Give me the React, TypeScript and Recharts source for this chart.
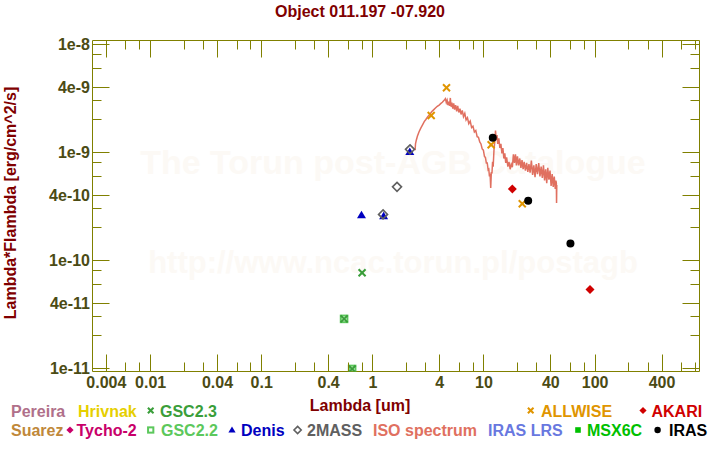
import React from 'react';
import { ComposedChart, Scatter, XAxis, YAxis } from 'recharts';

// ---------- text ----------
const title = 'Object 011.197 -07.920';
const xTitle = 'Lambda [um]';
const yTitle = 'Lambda*Flambda [erg/cm^2/s]';
const watermark1 = 'The Torun post-AGB Catalogue';
const watermark2 = 'http://www.ncac.torun.pl/postagb';

// ---------- axes ----------
const xDomain = [0.003, 870];
const yDomain = [9.38e-12, 1.089e-8];
const xMajor = [0.004, 0.01, 0.04, 0.1, 0.4, 1, 4, 10, 40, 100, 400];
const xMajorLabels = ['0.004', '0.01', '0.04', '0.1', '0.4', '1', '4', '10', '40', '100', '400'];
const xMinor = [0.006, 0.008, 0.02, 0.03, 0.06, 0.08, 0.2, 0.3, 0.6, 0.8, 2, 3, 6, 8, 20, 30, 60, 80, 200, 300, 600, 800];
const yMajor = [1e-8, 4e-9, 1e-9, 4e-10, 1e-10, 4e-11, 1e-11];
const yMajorLabels = ['1e-8', '4e-9', '1e-9', '4e-10', '1e-10', '4e-11', '1e-11'];
const yMinor = [8e-9, 6e-9, 3e-9, 2e-9, 8e-10, 6e-10, 3e-10, 2e-10, 8e-11, 6e-11, 3e-11, 2e-11];

// ---------- photometry ----------
const gsc23Wave = [0.8, 0.551, 0.651];
const gsc23Flux = [7.7e-11, 2.88e-11, 9.9e-12];
const gsc22Wave = [0.551, 0.651];
const gsc22Flux = [2.88e-11, 9.9e-12];
const denisWave = [0.79, 1.25, 2.15];
const denisFlux = [2.63e-10, 2.57e-10, 1.01e-9];
const twomassWave = [1.235, 1.65, 2.16];
const twomassFlux = [2.67e-10, 4.81e-10, 1.07e-9];
const allwiseWave = [3.35, 4.6, 11.6, 22.1];
const allwiseFlux = [2.2e-9, 3.97e-9, 1.18e-9, 3.35e-10];
const akariWave = [18, 90];
const akariFlux = [4.6e-10, 5.4e-11];
const irasWave = [12, 25, 60];
const irasFlux = [1.37e-9, 3.57e-10, 1.44e-10];

// ---------- ISO spectrum ----------
const isoWave = [
  2.40, 2.42, 2.46, 2.52, 2.60, 2.70, 2.80, 2.90, 3.00, 3.12, 3.25, 3.38, 3.52, 3.66, 3.80, 3.95,
  4.10, 4.22, 4.32, 4.42, 4.50, 4.58, 4.66, 4.74, 4.82, 4.90, 4.98, 5.06, 5.14, 5.24, 5.34, 5.44,
  5.56, 5.68, 5.80, 5.94, 6.08, 6.22, 6.38, 6.54, 6.72, 6.90, 7.10, 7.30, 7.52, 7.74, 7.96, 8.20,
  8.44, 8.68, 8.92, 9.16, 9.40, 9.64, 9.88, 10.1, 10.3, 10.5, 10.7, 10.9, 11.05, 11.2, 11.35, 11.5,
  11.65, 11.8, 11.95, 12.1, 12.3, 12.5, 12.7, 12.9, 13.1, 13.3, 13.6, 13.9, 14.2, 14.5, 14.8, 15.1,
  15.4, 15.7, 16.0, 16.4, 16.8, 17.2, 17.6, 18.0, 18.4, 18.8, 19.2, 19.6, 20.0, 20.5, 21.0, 21.5,
  22.0, 22.5, 23.0, 23.6, 24.2, 24.8, 25.4, 26.0, 26.7, 27.4, 28.1, 28.8, 29.5, 30.3, 31.1, 31.9,
  32.7, 33.5, 34.3, 35.1, 35.9, 36.7, 37.5, 38.4, 39.3, 40.2, 41.1, 42.0, 42.9, 43.8, 44.4, 44.8,
  45.0, 45.2,
];
const isoFlux = [
  1.05e-9, 1.2e-9, 1.3e-9, 1.42e-9, 1.55e-9, 1.68e-9, 1.8e-9, 1.93e-9, 2.02e-9, 2.15e-9, 2.25e-9, 2.38e-9, 2.48e-9, 2.58e-9, 2.68e-9, 2.75e-9,
  2.85e-9, 2.92e-9, 3.0e-9, 3.08e-9, 3.15e-9, 2.9e-9, 3.05e-9, 2.75e-9, 2.95e-9, 2.7e-9, 3.2e-9, 2.65e-9, 2.9e-9, 2.55e-9, 2.85e-9, 2.5e-9,
  2.75e-9, 2.4e-9, 2.7e-9, 2.35e-9, 2.55e-9, 2.25e-9, 2.45e-9, 2.15e-9, 2.3e-9, 2.0e-9, 2.1e-9, 1.85e-9, 1.95e-9, 1.7e-9, 1.75e-9, 1.55e-9,
  1.6e-9, 1.4e-9, 1.38e-9, 1.25e-9, 1.2e-9, 1.08e-9, 1.05e-9, 9.2e-10, 9.0e-10, 8.0e-10, 8.0e-10, 6.9e-10, 7.0e-10, 6.0e-10, 6.4e-10, 4.7e-10,
  6.6e-10, 6.4e-10, 8.2e-10, 7.4e-10, 1.05e-9, 1.25e-9, 1.6e-9, 1.3e-9, 1.45e-9, 1.2e-9, 1.35e-9, 1.1e-9, 1.2e-9, 9.8e-10, 1.1e-9, 8.8e-10,
  9.8e-10, 8.0e-10, 9.0e-10, 7.4e-10, 8.2e-10, 7.0e-10, 7.8e-10, 7.3e-10, 9.6e-10, 8.0e-10, 9.6e-10, 7.6e-10, 9.2e-10, 7.6e-10, 8.8e-10, 7.2e-10,
  8.5e-10, 7.0e-10, 8.2e-10, 6.8e-10, 8.0e-10, 6.6e-10, 7.8e-10, 6.5e-10, 8.4e-10, 6.2e-10, 7.6e-10, 5.9e-10, 7.8e-10, 6.3e-10, 8.0e-10, 6.0e-10,
  7.4e-10, 5.8e-10, 7.6e-10, 5.5e-10, 7.0e-10, 5.2e-10, 7.2e-10, 5.6e-10, 6.8e-10, 4.9e-10, 6.3e-10, 4.8e-10, 6.0e-10, 4.6e-10, 5.5e-10, 5.2e-10,
  3.4e-10, 5.0e-10,
];

// ---------- legend ----------
const legendNames = ['Pereira', 'Hrivnak', 'GSC2.3', 'ALLWISE', 'AKARI', 'Suarez', 'Tycho-2', 'GSC2.2', 'Denis', '2MASS', 'ISO spectrum', 'IRAS LRS', 'MSX6C', 'IRAS'];
const legendMarkers = ['', '', 'x', 'x', 'diamond', '', 'diamond', 'squareOpen', 'triangle', 'diamondOpen', '', '', 'square', 'circle'];
const legendColors = ['#b0708a', '#e6cf00', '#3a9e3a', '#e09500', '#d00000', '#c0883a', '#c8006a', '#5cc85c', '#0000c0', '#606060', '#e07060', '#6878e0', '#00c000', '#000000'];
// layout: text x, baseline y, marker x
const legendLayout = [
  [11, 416.5, 0], [78, 416.5, 0], [160, 416.5, 150.7], [541, 416.5, 530.7], [651.5, 416.5, 643],
  [11, 436, 0], [76.5, 436, 70], [161, 436, 150.7], [241, 436, 232], [307, 436, 297.6],
  [373, 436, 0], [488, 436, 0], [587, 436, 578], [669, 436, 657.6],
];

const OLIVE = '#808000';
const TICKTXT = '#4b4b14';
const DARKRED = '#800000';
const FONT = '"Liberation Sans", Arial, sans-serif';

const toPts = (xs: number[], ys: number[]) => xs.map((x, i) => ({ x, y: ys[i] }));
const crisp = (v: number) => Math.round(v - 0.5) + 0.5;

function findLabel(v: number, majors: number[], labels: string[]) {
  for (let i = 0; i < majors.length; i++) {
    if (Math.abs(Math.log10(v) - Math.log10(majors[i])) < 1e-6) return labels[i];
  }
  return null;
}

const BottomTick = (p: any) => {
  const lab = findLabel(p.payload.value, xMajor, xMajorLabels);
  const len = lab ? 17 : 9;
  const x = crisp(p.x);
  return (
    <g>
      <line x1={x} x2={x} y1={p.y} y2={p.y - len} stroke={OLIVE} strokeWidth={1} />
      {lab && (
        <text x={p.x} y={p.y + 16} textAnchor="middle" fill={TICKTXT} fontSize={16} fontWeight="bold" fontFamily={FONT}>
          {lab}
        </text>
      )}
    </g>
  );
};
const TopTick = (p: any) => {
  const lab = findLabel(p.payload.value, xMajor, xMajorLabels);
  const len = lab ? 17 : 9;
  const x = crisp(p.x);
  return <line x1={x} x2={x} y1={p.y} y2={p.y + len} stroke={OLIVE} strokeWidth={1} />;
};
const LeftTick = (p: any) => {
  const lab = findLabel(p.payload.value, yMajor, yMajorLabels);
  const len = lab ? 17 : 9;
  const y = crisp(p.y);
  return (
    <g>
      <line x1={p.x} x2={p.x + len} y1={y} y2={y} stroke={OLIVE} strokeWidth={1} />
      {lab && (
        <text x={p.x - 2.5} y={p.y} dy="0.36em" textAnchor="end" fill={TICKTXT} fontSize={16} fontWeight="bold" fontFamily={FONT}>
          {lab}
        </text>
      )}
    </g>
  );
};
const RightTick = (p: any) => {
  const lab = findLabel(p.payload.value, yMajor, yMajorLabels);
  const len = lab ? 17 : 9;
  const y = crisp(p.y);
  return <line x1={p.x} x2={p.x - len} y1={y} y2={y} stroke={OLIVE} strokeWidth={1} />;
};

function Marker({ kind, cx, cy, color, s = 1 }: { kind: string; cx: number; cy: number; color: string; s?: number }) {
  switch (kind) {
    case 'x':
      return (
        <g stroke={color} strokeWidth={2}>
          <line x1={cx - 3.5 * s} y1={cy - 3.5 * s} x2={cx + 3.5 * s} y2={cy + 3.5 * s} />
          <line x1={cx - 3.5 * s} y1={cy + 3.5 * s} x2={cx + 3.5 * s} y2={cy - 3.5 * s} />
        </g>
      );
    case 'diamond':
      return <polygon points={`${cx},${cy - 4.5 * s} ${cx + 4.5 * s},${cy} ${cx},${cy + 4.5 * s} ${cx - 4.5 * s},${cy}`} fill={color} />;
    case 'diamondOpen':
      return <polygon points={`${cx},${cy - 4.5 * s} ${cx + 4.5 * s},${cy} ${cx},${cy + 4.5 * s} ${cx - 4.5 * s},${cy}`} fill="none" stroke={color} strokeWidth={1.6} />;
    case 'triangle':
      return <polygon points={`${cx},${cy - 4.5 * s} ${cx + 4.5 * s},${cy + 3 * s} ${cx - 4.5 * s},${cy + 3 * s}`} fill={color} />;
    case 'squareOpen':
      return <rect x={cx - 3.3 * s} y={cy - 3.3 * s} width={6.6 * s} height={6.6 * s} fill="none" stroke={color} strokeWidth={2} />;
    case 'square':
      return <rect x={cx - 3.5 * s} y={cy - 3.5 * s} width={7 * s} height={7 * s} fill={color} />;
    case 'circle':
      return <circle cx={cx} cy={cy} r={4 * s} fill={color} />;
    default:
      return <g />;
  }
}

const shapeOf = (kind: string, color: string) => (p: any) => <Marker kind={kind} cx={p.cx} cy={p.cy} color={color} />;

export default function App() {
  const W = 720;
  const H = 450;
  return (
    <div style={{ position: 'fixed', left: 0, top: 0, width: W, height: H, background: '#ffffff' }}>
      <svg width={W} height={H} style={{ position: 'absolute', left: 0, top: 0 }}>
        <text x={393} y={174} textAnchor="middle" fontSize={34} fontWeight="bold" fontFamily={FONT} fill="#fcf9f5">
          {watermark1}
        </text>
        <text x={393} y={273} textAnchor="middle" fontSize={31} fontWeight="bold" fontFamily={FONT} fill="#fcf9f5">
          {watermark2}
        </text>
        <text x={360} y={17} textAnchor="middle" fontSize={16} fontWeight="bold" fontFamily={FONT} fill={DARKRED}>
          {title}
        </text>
        <text x={360} y={410.5} textAnchor="middle" fontSize={16} fontWeight="bold" fontFamily={FONT} fill={DARKRED}>
          {xTitle}
        </text>
        <text transform="rotate(-90)" x={-203} y={16} textAnchor="middle" fontSize={16} fontWeight="bold" fontFamily={FONT} fill={DARKRED}>
          {yTitle}
        </text>
        {legendNames.map((name, i) => {
          const [tx, ty, mx] = legendLayout[i];
          return (
            <g key={name}>
              {legendMarkers[i] && <Marker kind={legendMarkers[i]} cx={mx} cy={ty - 6} color={legendColors[i]} s={0.8} />}
              <text x={tx} y={ty} fontSize={16} fontWeight="bold" fontFamily={FONT} fill={legendColors[i]}>
                {name}
              </text>
            </g>
          );
        })}
      </svg>
      <div style={{ position: 'absolute', left: 0, top: 0 }}>
        <ComposedChart width={W} height={H} margin={{ top: 0.5, right: 0, bottom: 0, left: 0.5 }}>
          <XAxis
            xAxisId="b"
            dataKey="x"
            type="number"
            scale="log"
            domain={xDomain}
            allowDataOverflow
            ticks={[...xMajor, ...xMinor]}
            interval={0}
            tickSize={0}
            tickMargin={0}
            tickLine={false}
            tick={BottomTick}
            axisLine={{ stroke: OLIVE }}
            orientation="bottom"
            height={78.5}
          />
          <XAxis
            xAxisId="t"
            dataKey="x"
            type="number"
            scale="log"
            domain={xDomain}
            allowDataOverflow
            ticks={[...xMajor, ...xMinor]}
            interval={0}
            tickSize={0}
            tickMargin={0}
            tickLine={false}
            tick={TopTick}
            axisLine={{ stroke: OLIVE }}
            orientation="top"
            height={40}
          />
          <YAxis
            yAxisId="l"
            dataKey="y"
            type="number"
            scale="log"
            domain={yDomain}
            allowDataOverflow
            ticks={[...yMajor, ...yMinor]}
            interval={0}
            tickSize={0}
            tickMargin={0}
            tickLine={false}
            tick={LeftTick}
            axisLine={{ stroke: OLIVE }}
            orientation="left"
            width={92}
          />
          <YAxis
            yAxisId="r"
            dataKey="y"
            type="number"
            scale="log"
            domain={yDomain}
            allowDataOverflow
            ticks={[...yMajor, ...yMinor]}
            interval={0}
            tickSize={0}
            tickMargin={0}
            tickLine={false}
            tick={RightTick}
            axisLine={{ stroke: OLIVE }}
            orientation="right"
            width={20.5}
          />
          <Scatter
            name="ISO spectrum"
            xAxisId="b"
            yAxisId="l"
            data={toPts(isoWave, isoFlux)}
            dataKey="y"
            line={{ stroke: '#e07060', strokeWidth: 1.5 }}
            shape={() => <g />}
            isAnimationActive={false}
          />
          <Scatter xAxisId="b" yAxisId="l" data={toPts(gsc22Wave, gsc22Flux)} dataKey="y" shape={shapeOf('squareOpen', '#5cc85c')} isAnimationActive={false} />
          <Scatter xAxisId="b" yAxisId="l" data={toPts(gsc23Wave, gsc23Flux)} dataKey="y" shape={shapeOf('x', '#3a9e3a')} isAnimationActive={false} />
          <Scatter xAxisId="b" yAxisId="l" data={toPts(denisWave, denisFlux)} dataKey="y" shape={shapeOf('triangle', '#0000c0')} isAnimationActive={false} />
          <Scatter xAxisId="b" yAxisId="l" data={toPts(twomassWave, twomassFlux)} dataKey="y" shape={shapeOf('diamondOpen', '#606060')} isAnimationActive={false} />
          <Scatter xAxisId="b" yAxisId="l" data={toPts(allwiseWave, allwiseFlux)} dataKey="y" shape={shapeOf('x', '#e09500')} isAnimationActive={false} />
          <Scatter xAxisId="b" yAxisId="l" data={toPts(akariWave, akariFlux)} dataKey="y" shape={shapeOf('diamond', '#d00000')} isAnimationActive={false} />
          <Scatter xAxisId="b" yAxisId="l" data={toPts(irasWave, irasFlux)} dataKey="y" shape={shapeOf('circle', '#000000')} isAnimationActive={false} />
        </ComposedChart>
      </div>
    </div>
  );
}
